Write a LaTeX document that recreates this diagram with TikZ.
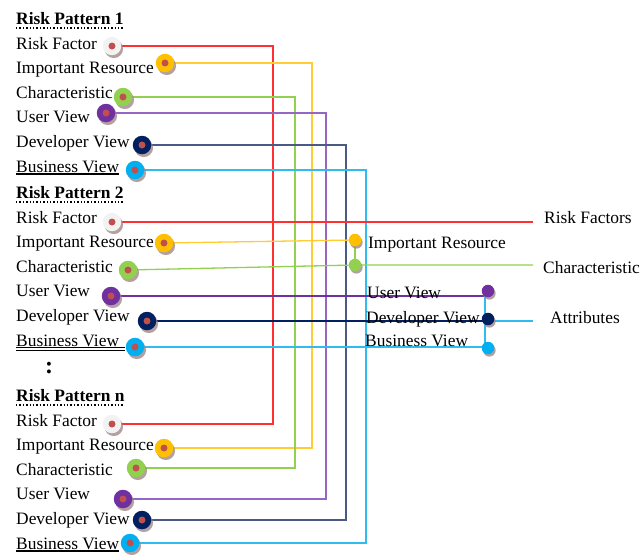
\documentclass[tikz,border=0pt]{standalone}
\usepackage{fontspec}
\setmainfont{Liberation Serif}
\usetikzlibrary{shadows,backgrounds}
\definecolor{cred}{HTML}{FF3030}
\definecolor{cgold}{HTML}{FFC000}
\definecolor{cgoldl}{HTML}{FFCC33}
\definecolor{cgreen}{HTML}{92D050}
\definecolor{cpurple}{HTML}{7030A0}
\definecolor{cpurplel}{HTML}{9566C4}
\definecolor{cnavy}{HTML}{002060}
\definecolor{cnavyl}{HTML}{4A5A85}
\definecolor{ccyan}{HTML}{00B0F0}
\definecolor{ccyanl}{HTML}{30BCF0}
\definecolor{cinner}{HTML}{C0504D}
\definecolor{cshadow}{HTML}{A08888}
\definecolor{cwhite}{HTML}{F2F2F2}
\tikzset{
  lbl/.style={anchor=base west, inner sep=0pt, font=\fontsize{17.4}{20}\selectfont},
  hdr/.style={lbl, font=\fontsize{17.4}{20}\selectfont\bfseries},
  bigdot/.style={circle, minimum size=18.5pt, inner sep=0pt, fill=#1,
    drop shadow={shadow xshift=1.8pt, shadow yshift=-2.8pt, fill=cshadow, opacity=0.8},
    path picture={\fill[cinner] (path picture bounding box.center) circle (3.5pt);}},
  smalldot/.style={circle, minimum size=12.5pt, inner sep=0pt, fill=#1,
    drop shadow={shadow xshift=1.4pt, shadow yshift=-2.4pt, fill=cshadow, opacity=0.8}},
  conn/.style={line width=1.3pt, draw=#1},
  dotline/.style={line width=1.4pt, dotted, draw=black},
  uline/.style={line width=1.2pt, draw=black}
}
\begin{document}
\begin{tikzpicture}[x=1pt,y=-1pt]
\useasboundingbox (0,0) rectangle (643,555);
% ---------- group 1 ----------
\node[hdr] (h1) at (16,24) {Risk Pattern 1};
\node[lbl] (a1) at (16,49) {Risk Factor};
\node[lbl] (b1) at (16,73.5) {Important Resource};
\node[lbl] (c1) at (16,98) {Characteristic};
\node[lbl] (e1) at (16,122.5) {User View};
\node[lbl] (f1) at (16,147) {Developer View};
\node[lbl] (g1) at (16,172) {Business View};
\node[bigdot={cwhite}] (d1rf) at (112,46) {};
\node[bigdot={cgold}] (d1ir) at (165,63) {};
\node[bigdot={cgreen}] (d1ch) at (123,97) {};
\node[bigdot={cpurple}] (d1uv) at (106,113) {};
\node[bigdot={cnavy}] (d1dv) at (142,145) {};
\node[bigdot={ccyan}] (d1bv) at (135,170) {};
% ---------- group 2 ----------
\node[hdr] (h2) at (16,198) {Risk Pattern 2};
\node[lbl] (a2) at (16,223) {Risk Factor};
\node[lbl] (b2) at (16,247.5) {Important Resource};
\node[lbl] (c2) at (16,272) {Characteristic};
\node[lbl] (e2) at (16,296.5) {User View};
\node[lbl] (f2) at (16,321) {Developer View};
\node[lbl] (g2) at (16,346) {Business View};
\node[bigdot={cwhite}] (d2rf) at (112,222) {};
\node[bigdot={cgold}] (d2ir) at (164,243) {};
\node[bigdot={cgreen}] (d2ch) at (128,270) {};
\node[bigdot={cpurple}] (d2uv) at (111,296) {};
\node[bigdot={cnavy}] (d2dv) at (147,321) {};
\node[bigdot={ccyan}] (d2bv) at (135,347) {};
\node[inner sep=0pt, font=\fontsize{24}{24}\selectfont\bfseries] (dots) at (49,368) {:};
% ---------- group n ----------
\node[hdr] (h3) at (16,401) {Risk Pattern n};
\node[lbl] (a3) at (16,426) {Risk Factor};
\node[lbl] (b3) at (16,450.5) {Important Resource};
\node[lbl] (c3) at (16,475) {Characteristic};
\node[lbl] (e3) at (16,499.5) {User View};
\node[lbl] (f3) at (16,524) {Developer View};
\node[lbl] (g3) at (16,549) {Business View};
\node[bigdot={cwhite}] (d3rf) at (112,424) {};
\node[bigdot={cgold}] (d3ir) at (164,448) {};
\node[bigdot={cgreen}] (d3ch) at (136,468) {};
\node[bigdot={cpurple}] (d3uv) at (123,499) {};
\node[bigdot={cnavy}] (d3dv) at (142,520) {};
\node[bigdot={ccyan}] (d3bv) at (130,543) {};
% ---------- right side ----------
\node[smalldot={cgold}] (ry) at (355,240) {};
\node[smalldot={cgreen}] (rg) at (355,265) {};
\node[smalldot={cpurple}] (rp) at (488,291) {};
\node[smalldot={cnavy}] (rn) at (488,319) {};
\node[smalldot={ccyan}] (rc) at (488,348) {};
\node[lbl] (lir) at (368,248) {Important Resource};
\node[lbl] (lrf) at (544,223) {Risk Factors};
\node[lbl] (lch) at (543,273) {Characteristic};
\node[lbl] (luv) at (367,298) {User View};
\node[lbl] (ldv) at (366,323) {Developer View};
\node[lbl] (lbv) at (365,346) {Business View};
\node[lbl] (lat) at (550,323) {Attributes};
% coordinates
\coordinate (vr) at (273,0);
\coordinate (vg) at (295,0);
\coordinate (vy) at (312,0);
\coordinate (vp) at (326,0);
\coordinate (vn) at (346,0);
\coordinate (vc) at (366,0);
\coordinate (bar) at (485,0);
\coordinate (rfend) at (533,222);
\coordinate (chend) at (533,265);
\coordinate (atend) at (533,321);
\coordinate (bartop) at (485,292);
\coordinate (barbot) at (485,348);
% underlines
\draw[dotline] ([yshift=-4pt]h1.base west) -- ([yshift=-4pt]h1.base east);
\draw[dotline] ([yshift=-4pt]h2.base west) -- ([yshift=-4pt]h2.base east);
\draw[dotline] ([yshift=-4pt]h3.base west) -- ([yshift=-4pt]h3.base east);
\draw[uline] ([yshift=-2pt]g1.base west) -- ([yshift=-2pt]g1.base east);
\draw[line width=0.9pt] ([yshift=-1.5pt]g2.base west) -- ([yshift=-1.5pt,xshift=6pt]g2.base east);
\draw[line width=0.9pt] ([yshift=-4pt]g2.base west) -- ([yshift=-4pt,xshift=6pt]g2.base east);
\draw[uline] ([yshift=-2pt]g3.base west) -- ([yshift=-2pt]g3.base east);
% connectors
\begin{scope}[on background layer]
\draw[conn=cred] (d1rf) -- (d1rf -| vr) -- (d3rf -| vr) -- (d3rf);
\draw[conn=cgoldl] (d1ir) -- (d1ir -| vy) -- (d3ir -| vy) -- (d3ir);
\draw[conn=cgreen] (d1ch) -- (d1ch -| vg) -- (d3ch -| vg) -- (d3ch);
\draw[conn=cpurplel] (d1uv) -- (d1uv -| vp) -- (d3uv -| vp) -- (d3uv);
\draw[conn=cnavyl] (d1dv) -- (d1dv -| vn) -- (d3dv -| vn) -- (d3dv);
\draw[conn=ccyanl] (d1bv) -- (d1bv -| vc) -- (d3bv -| vc) -- (d3bv);
\draw[conn=cred] (d2rf) -- (rfend);
\draw[conn=cgoldl] (d2ir) -- (ry);
\draw[conn=cgreen] (d2ch) -- (rg) -- (chend);
\draw[conn=cgreen] (ry) -- (rg);
\draw[conn=cpurple] (d2uv) -- (d2uv -| bar);
\draw[conn=cnavy] (d2dv) -- (d2dv -| bar);
\draw[conn=ccyanl] (d2bv) -- (d2bv -| bar);
\draw[conn=ccyanl] (bartop) -- (barbot);
\draw[conn=ccyanl] (d2dv -| bar) -- (atend);
\end{scope}
\end{tikzpicture}
\end{document}
